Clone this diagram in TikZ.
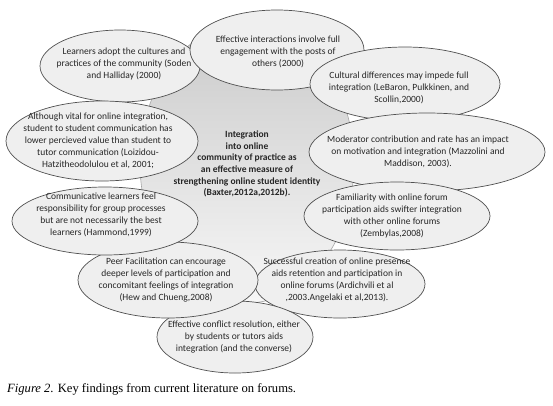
\documentclass[tikz,border=0pt]{standalone}
\usepackage{fontspec}
\setmainfont{Liberation Serif}
\newfontfamily\calib{Carlito}
\usetikzlibrary{shapes.geometric}
\definecolor{bubfill}{HTML}{EFEFEF}
\definecolor{bubline}{HTML}{505050}
\tikzset{
  bubble/.style={ellipse, draw=bubline, fill=bubfill, line width=0.7pt, inner sep=0pt},
  btext/.style={align=center, font=\calib\fontsize{9.5}{12}\selectfont, inner sep=0pt, text=black!85},
  ctext/.style={align=center, font=\calib\bfseries\fontsize{9.5}{11.7}\selectfont, inner sep=0pt, text=black!85},
  bgshape/.style={ellipse, draw=gray!70, line width=0.6pt, top color=gray!42, bottom color=gray!6, inner sep=0pt}
}
\begin{document}
\begin{tikzpicture}[x=1pt,y=-1pt]
\useasboundingbox (0,0) rectangle (553,405);
\fill[white] (0,0) rectangle (553,405);
% background
\node[bgshape, minimum width=214pt, minimum height=280pt] (bg) at (247,163) {};
% bubbles (drawn in order, later on top)
\node[bubble, minimum width=160pt, minimum height=72pt] (e1) at (120,66) {};
\node[bubble, minimum width=174pt, minimum height=80pt] (e2) at (277,50) {};
\node[bubble, minimum width=190pt, minimum height=74pt] (e3) at (405,84) {};
\node[bubble, minimum width=236pt, minimum height=78pt] (e6) at (427,152) {};
\node[bubble, minimum width=186pt, minimum height=68pt] (e7) at (397,216) {};
\node[bubble, minimum width=170pt, minimum height=68pt] (e10) at (340,284) {};
\node[bubble, minimum width=156pt, minimum height=72pt] (e11) at (235,337) {};
\node[bubble, minimum width=180pt, minimum height=76pt] (e9) at (168,280) {};
\node[bubble, minimum width=186pt, minimum height=68pt] (e8) at (105,221) {};
\node[bubble, minimum width=192pt, minimum height=80pt] (e4) at (102,141) {};
% texts
\node[btext] (t1) at (124,64) {Learners adopt the cultures and\\practices of the community (Soden\\and Halliday (2000)};
\node[btext] (t2) at (278,52) {Effective interactions involve full\\engagement with the posts of\\others (2000)};
\node[btext] (t3) at (399,88) {Cultural differences may impede full\\integration (LeBaron, Pulkkinen, and\\Scollin,2000)};
\node[btext] (t4) at (98,141) {Although vital for online integration,\\student to student communication has\\lower percieved value than student to\\tutor communication (Loizidou-\\Hatzitheodolulou et al, 2001;};
\node[ctext] (t5) at (247,164) {Integration\\into online\\community of practice as\\an effective measure of\\strengthening online student identity\\(Baxter,2012a,2012b).};
\node[btext] (t6) at (418,152) {Moderator contribution and rate has an impact\\on motivation and integration (Mazzolini and\\Maddison, 2003).};
\node[btext] (t7) at (392,216) {Familiarity with online forum\\participation aids swifter integration\\with other online forums\\(Zembylas,2008)};
\node[btext] (t8) at (101,215) {Communicative learners feel\\responsibility for group processes\\but are not necessarily the best\\learners (Hammond,1999)};
\node[btext] (t9) at (166,280) {Peer Facilitation can encourage\\deeper levels of participation and\\concomitant feelings of integration\\(Hew and Chueng,2008)};
\node[btext] (t10) at (337,280) {Successful creation of online presence\\aids retention and participation in\\online forums (Ardichvili et al\\,2003.Angelaki et al,2013).};
\node[btext] (t11) at (234,337) {Effective conflict resolution, either\\by students or tutors aids\\integration (and the converse)};
% caption
\node[anchor=base west, inner sep=0pt, font=\fontsize{12.6}{15}\selectfont] (cap) at (7,392) {\textit{Figure 2}. Key findings from current literature on forums.};
\end{tikzpicture}
\end{document}
